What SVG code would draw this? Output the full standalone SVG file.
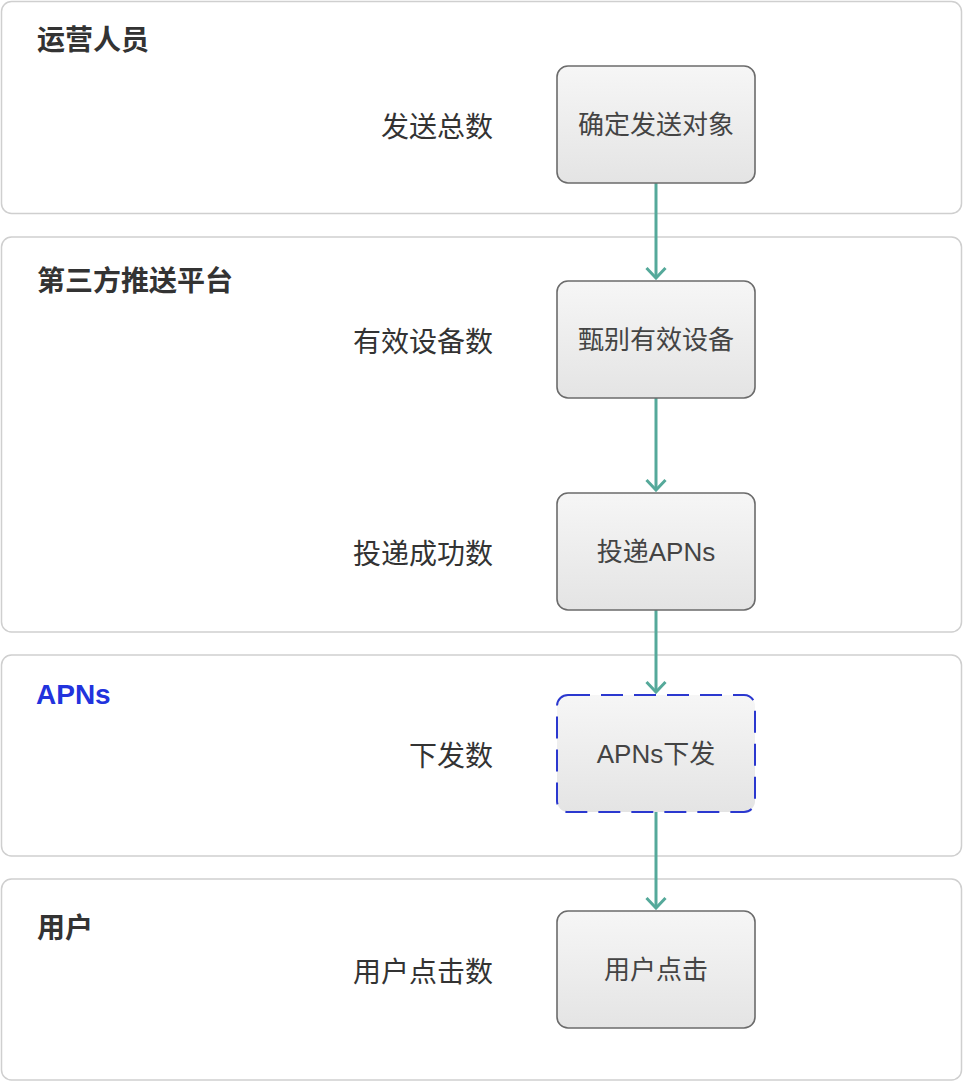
<svg xmlns="http://www.w3.org/2000/svg" width="964" height="1082" viewBox="0 0 964 1082">
<style>
.lane{fill:#fff;stroke:#cfcfcf;stroke-width:1.5}
.node{fill:url(#g);stroke:#6b6b6b;stroke-width:1.6}
.dash{fill:url(#g);stroke:#2b38cf;stroke-width:2;stroke-dasharray:22 11}
.title{font-family:"Liberation Sans","Noto Sans CJK SC",sans-serif;font-size:28px;font-weight:bold;fill:#333}
.lbl{font-family:"Liberation Sans","Noto Sans CJK SC",sans-serif;font-size:28px;fill:#333;text-anchor:end}
.nt{font-family:"Liberation Sans","Noto Sans CJK SC",sans-serif;font-size:26px;fill:#444;text-anchor:middle}
.edge{stroke:#55a99a;stroke-width:3;fill:none}
</style>
<defs>
<linearGradient id="g" x1="0" y1="0" x2="0" y2="1">
<stop offset="0" stop-color="#f6f6f6"/>
<stop offset="1" stop-color="#e4e4e4"/>
</linearGradient>
<marker id="arr" viewBox="0 0 14 22" refX="12" refY="11" markerWidth="14" markerHeight="22" markerUnits="userSpaceOnUse" orient="auto">
<path d="M2,1.5 L12,11 L2,20.5" fill="none" stroke="#55a99a" stroke-width="3"/>
</marker>
</defs>
<rect width="964" height="1082" fill="#fff"/>
<g id="lane-ops"><rect class="lane" x="1.5" y="1.5" width="960" height="212" rx="10"/><text class="title" x="37" y="40" dominant-baseline="central">运营人员</text></g>
<g id="lane-platform"><rect class="lane" x="1.5" y="237" width="960" height="395" rx="10"/><text class="title" x="37" y="281" dominant-baseline="central">第三方推送平台</text></g>
<g id="lane-apns"><rect class="lane" x="1.5" y="655" width="960" height="201" rx="10"/><text class="title" x="36" y="694" dominant-baseline="central" style="fill:#2233dd">APNs</text></g>
<g id="lane-user"><rect class="lane" x="1.5" y="879" width="960" height="201" rx="10"/><text class="title" x="37" y="928" dominant-baseline="central">用户</text></g>
<g id="connectors">
<line class="edge" x1="656" y1="183" x2="656" y2="278" marker-end="url(#arr)"/>
<line class="edge" x1="656" y1="398" x2="656" y2="490" marker-end="url(#arr)"/>
<line class="edge" x1="656" y1="610" x2="656" y2="692" marker-end="url(#arr)"/>
<line class="edge" x1="656" y1="812" x2="656" y2="908" marker-end="url(#arr)"/>
</g>
<g id="n1"><rect class="node" x="557" y="66" width="198" height="117" rx="11"/><text class="nt" x="656" y="125" dominant-baseline="central">确定发送对象</text><text class="lbl" x="493" y="127" dominant-baseline="central">发送总数</text></g>
<g id="n2"><rect class="node" x="557" y="281" width="198" height="117" rx="11"/><text class="nt" x="656" y="340" dominant-baseline="central">甄别有效设备</text><text class="lbl" x="493" y="342" dominant-baseline="central">有效设备数</text></g>
<g id="n3"><rect class="node" x="557" y="493" width="198" height="117" rx="11"/><text class="nt" x="656" y="552" dominant-baseline="central">投递APNs</text><text class="lbl" x="493" y="554" dominant-baseline="central">投递成功数</text></g>
<g id="n4"><rect class="dash" x="557" y="695" width="198" height="117" rx="11"/><text class="nt" x="656" y="754" dominant-baseline="central">APNs下发</text><text class="lbl" x="493" y="756" dominant-baseline="central">下发数</text></g>
<g id="n5"><rect class="node" x="557" y="911" width="198" height="117" rx="11"/><text class="nt" x="656" y="970" dominant-baseline="central">用户点击</text><text class="lbl" x="493" y="972" dominant-baseline="central">用户点击数</text></g>
</svg>
